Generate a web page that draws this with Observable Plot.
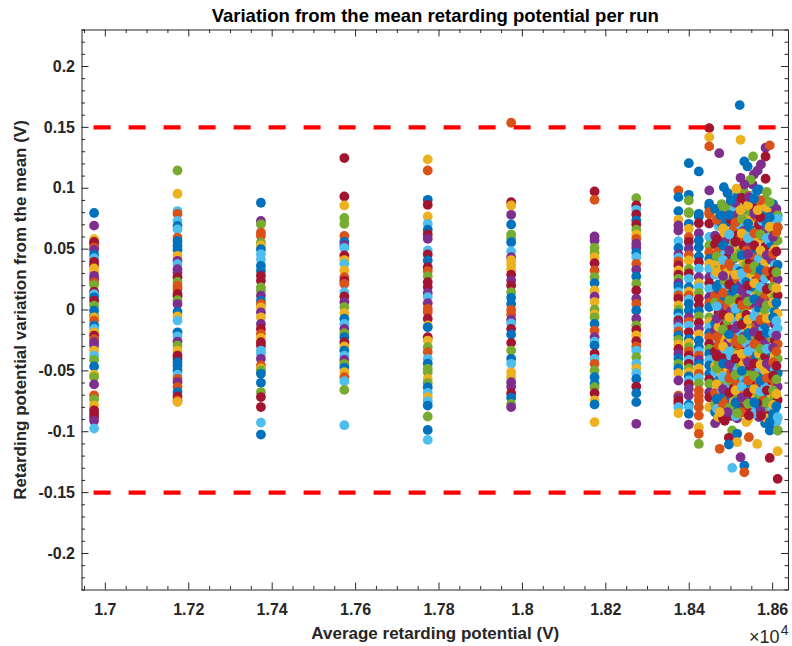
<!DOCTYPE html>
<html><head><meta charset="utf-8">
<script src="https://cdn.jsdelivr.net/npm/d3@7"></script>
<script src="https://cdn.jsdelivr.net/npm/@observablehq/plot@0.6"></script>
<style>html,body{margin:0;padding:0;background:#fff}svg{display:block}</style>
</head><body><div id="chart"></div>
<script>
// ---- labels ----
const titleText = "Variation from the mean retarding potential per run";
const xLabel = "Average retarding potential (V)";
const yLabel = "Retarding potential variation from the mean (V)";
const xExponentBase = "\u00d710";
const xExponent = "4";
const xTickValues = [17000, 17200, 17400, 17600, 17800, 18000, 18200, 18400, 18600];
const xTickLabels = ["1.7", "1.72", "1.74", "1.76", "1.78", "1.8", "1.82", "1.84", "1.86"];
const yTickValues = [-0.2, -0.15, -0.1, -0.05, 0, 0.05, 0.1, 0.15, 0.2];
const yTickLabels = ["-0.2", "-0.15", "-0.1", "-0.05", "0", "0.05", "0.1", "0.15", "0.2"];
const thresholds = [0.15, -0.15];
const thresholdSpan = [16973, 18610];

// ---- MATLAB default colour order ----
const palette = {B: "#0072BD", O: "#D95319", Y: "#EDB120", P: "#7E2F8E", G: "#77AC30", L: "#4DBEEE", R: "#A2142F"};
const cycle = ["B", "O", "Y", "P", "G", "L", "R"];

// ---- runs at fixed average potentials (V) ----
const runPositions = [16973, 17173, 17373, 17573, 17773, 17973, 18173, 18273, 18374, 18399, 18423, 18448];
const run1 = [0.0797,0.0693,0.0581,0.0559,0.0546,0.0513,0.0494,0.0455,0.0426,0.0396,0.0368,0.0341,0.0314,0.0281,0.0254,0.0225,0.0205,0.0150,0.0130,0.0104,0.0076,0.0035,-0.0005,-0.0046,-0.0060,-0.0087,-0.0128,-0.0156,-0.0183,-0.0210,-0.0240,-0.0265,-0.0292,-0.0333,-0.0374,-0.0410,-0.0464,-0.0532,-0.0551,-0.0611,-0.0701,-0.0734,-0.0783,-0.0824,-0.0851,-0.0878,-0.0910,-0.0974];
const run1c = "B P Y R R O P B L R R Y Y P P O G R L B R G B B Y O B L Y R O P P Y L G B Y G P O G Y R R R P L";
const run2 = [0.1146,0.0955,0.0813,0.0790,0.0731,0.0690,0.0663,0.0595,0.0567,0.0527,0.0494,0.0445,0.0404,0.0377,0.0336,0.0308,0.0267,0.0230,0.0199,0.0172,0.0131,0.0112,0.0080,0.0049,-0.0014,-0.0052,-0.0087,-0.0183,-0.0216,-0.0259,-0.0292,-0.0333,-0.0374,-0.0401,-0.0428,-0.0456,-0.0497,-0.0532,-0.0565,-0.0592,-0.0633,-0.0674,-0.0710,-0.0742,-0.0756];
const run2c = "G Y L O L B L O B B B Y P L P P R G O O R R G P B Y L B L P G Y R R B B B L O P O B R O Y";
const run3 = [0.0881,0.0731,0.0704,0.0636,0.0610,0.0554,0.0530,0.0499,0.0458,0.0417,0.0363,0.0322,0.0281,0.0240,0.0186,0.0158,0.0117,0.0076,0.0050,0.0022,-0.0019,-0.0060,-0.0115,-0.0156,-0.0196,-0.0230,-0.0265,-0.0292,-0.0333,-0.0360,-0.0401,-0.0456,-0.0480,-0.0497,-0.0524,-0.0598,-0.0674,-0.0715,-0.0797,-0.0925,-0.1023];
const run3c = "B P G O O G Y B L L B B R R G G P B O Y P Y P R O Y R R L L P O Y G B B G R R L B";
const run4 = [0.1248,0.0933,0.0859,0.0757,0.0708,0.0609,0.0560,0.0533,0.0511,0.0448,0.0410,0.0379,0.0325,0.0270,0.0240,0.0215,0.0147,0.0111,0.0065,0.0024,-0.0026,-0.0072,-0.0114,-0.0155,-0.0190,-0.0223,-0.0264,-0.0300,-0.0333,-0.0374,-0.0410,-0.0442,-0.0475,-0.0510,-0.0552,-0.0585,-0.0656,-0.0946];
const run4c = "R R Y G G O B P L R Y L Y O R O L R P G Y B L P G B R Y B L P G B Y O L G L";
const run5 = [0.1237,0.1146,0.0905,0.0864,0.0768,0.0708,0.0660,0.0620,0.0585,0.0489,0.0456,0.0407,0.0352,0.0320,0.0278,0.0229,0.0188,0.0140,0.0106,0.0056,0.0010,-0.0017,-0.0072,-0.0127,-0.0141,-0.0223,-0.0251,-0.0305,-0.0346,-0.0401,-0.0440,-0.0483,-0.0511,-0.0566,-0.0600,-0.0634,-0.0680,-0.0716,-0.0750,-0.0785,-0.0875,-0.0985,-0.1067];
const run5c = "Y O B R Y L B R P L R B R O G R R P L P O O R Y B R Y G O L B G G Y G B L Y L B G B L";
const run6 = [0.1538,0.0886,0.0859,0.0782,0.0703,0.0620,0.0590,0.0557,0.0483,0.0434,0.0410,0.0374,0.0333,0.0290,0.0242,0.0201,0.0147,0.0100,0.0050,0.0000,-0.0037,-0.0080,-0.0110,-0.0155,-0.0201,-0.0270,-0.0333,-0.0401,-0.0442,-0.0511,-0.0552,-0.0593,-0.0630,-0.0683,-0.0720,-0.0771,-0.0798];
const run6c = "O R Y P B G G B L P Y Y Y R P R G B B O O P L R B R G B L Y Y P P R B G P";
const run7 = [0.0974,0.0905,0.0604,0.0571,0.0511,0.0470,0.0434,0.0385,0.0325,0.0270,0.0221,0.0160,0.0110,0.0065,0.0002,-0.0037,-0.0060,-0.0114,-0.0169,-0.0223,-0.0260,-0.0292,-0.0360,-0.0401,-0.0442,-0.0497,-0.0552,-0.0606,-0.0634,-0.0683,-0.0743,-0.0776,-0.0921];
const run7c = "R O P P G G Y R O G B Y P Y G Y G B O P L B R L O G B B G R Y B Y";
const run8 = [0.0919,0.0859,0.0823,0.0785,0.0735,0.0703,0.0659,0.0620,0.0585,0.0544,0.0511,0.0470,0.0434,0.0379,0.0330,0.0275,0.0215,0.0160,0.0092,0.0050,-0.0004,-0.0072,-0.0127,-0.0163,-0.0209,-0.0256,-0.0300,-0.0333,-0.0387,-0.0442,-0.0480,-0.0519,-0.0566,-0.0629,-0.0683,-0.0757,-0.0935];
const run8c = "G R L R B R G Y O P P B L O P B G R P O B P G R Y R O L G L Y L B R B B P";
const run9 = [0.0982,0.0927,0.0812,0.0741,0.0694,0.0653,0.0566,0.0510,0.0456,0.0429,0.0400,0.0366,0.0325,0.0290,0.0256,0.0220,0.0193,0.0147,0.0120,0.0092,0.0038,0.0000,-0.0027,-0.0060,-0.0086,-0.0110,-0.0141,-0.0175,-0.0209,-0.0245,-0.0283,-0.0320,-0.0360,-0.0400,-0.0442,-0.0480,-0.0519,-0.0579,-0.0703,-0.0717,-0.0744,-0.0766,-0.0799,-0.0848];
const run9c = "O B B Y P P L B P L O R Y R G P B L O R Y G B L R P L O B G Y R P B G B Y P O P R R L Y";
const run10 = [0.1206,0.0946,0.0900,0.0804,0.0795,0.0708,0.0667,0.0598,0.0560,0.0503,0.0450,0.0407,0.0338,0.0300,0.0256,0.0188,0.0150,0.0119,0.0085,0.0051,-0.0004,-0.0060,-0.0095,-0.0128,-0.0183,-0.0237,-0.0270,-0.0305,-0.0340,-0.0374,-0.0410,-0.0442,-0.0480,-0.0511,-0.0545,-0.0579,-0.0610,-0.0648,-0.0703,-0.0777,-0.0799,-0.0853,-0.0941];
const run10c = "B B G G G B Y O R P O Y G R L B Y O L B B P O L R B Y G O R L R G Y B L R P P B L B P";
const run11 = [0.1138,0.0790,0.0767,0.0713,0.0631,0.0571,0.0516,0.0440,0.0393,0.0340,0.0270,0.0220,0.0188,0.0140,0.0092,0.0038,-0.0010,-0.0052,-0.0106,-0.0155,-0.0200,-0.0251,-0.0305,-0.0340,-0.0374,-0.0410,-0.0442,-0.0480,-0.0524,-0.0560,-0.0601,-0.0662,-0.0703,-0.0744,-0.0799,-0.0867,-0.0963,-0.1017,-0.1100];
const run11c = "B B B R P B B B R L P Y L G R R B G R P Y B B L O P B Y O L G O O O O O Y O G";
const run12 = [0.1494,0.1420,0.1344,0.0982,0.0873,0.0844,0.0804,0.0787,0.0710,0.0600,0.0530,0.0475,0.0420,0.0380,0.0338,0.0270,0.0220,0.0174,0.0105,0.0060,0.0024,-0.0060,-0.0100,-0.0141,-0.0190,-0.0223,-0.0278,-0.0320,-0.0360,-0.0410,-0.0456,-0.0524,-0.0570,-0.0606,-0.0676,-0.0717,-0.0799];
const run12c = "R Y O P B B O O R L G O B Y L P R L P O B G Y L B O R G B L B B R G P R Y";
const runValues = [run1, run2, run3, run4, run5, run6, run7, run8, run9, run10, run11, run12];
const runColors = [run1c, run2c, run3c, run4c, run5c, run6c, run7c, run8c, run9c, run10c, run11c, run12c];

// ---- dense block of runs near the top of the range ----
const denseX = [18462, 18470, 18478, 18485, 18492, 18500, 18507, 18515, 18522, 18530, 18537, 18545, 18552, 18560, 18567, 18575, 18582, 18590, 18597, 18605, 18612];
const denseY = [
  [0.083, 0.061, 0.054, 0.037, 0.029, 0.012, 0.006, -0.011, -0.017, -0.034, -0.046, -0.051, -0.068, -0.077, -0.084, -0.093],
  [0.076, 0.069, 0.048, 0.033, 0.021, 0.017, -0.002, -0.014, -0.026, -0.029, -0.043, -0.058, -0.062, -0.079, -0.088],
  [0.087, 0.071, 0.059, 0.044, 0.038, 0.019, 0.008, -0.005, -0.021, -0.036, -0.039, -0.053, -0.066, -0.071, -0.086],
  [0.079, 0.063, 0.046, 0.035, 0.024, 0.011, 0.001, -0.012, -0.024, -0.032, -0.047, -0.057, -0.069, -0.081, -0.091],
  [0.096, 0.084, 0.072, 0.057, 0.043, 0.031, 0.016, 0.003, -0.009, -0.018, -0.027, -0.041, -0.049, -0.063, -0.074, -0.084],
  [0.090, 0.074, 0.064, 0.051, 0.036, 0.022, 0.013, -0.001, -0.016, -0.023, -0.038, -0.052, -0.059, -0.071, -0.078, -0.087],
  [0.082, 0.067, 0.055, 0.042, 0.027, 0.018, 0.005, -0.007, -0.020, -0.033, -0.044, -0.050, -0.064, -0.075, -0.083],
  [0.093, 0.078, 0.061, 0.048, 0.034, 0.026, 0.009, -0.003, -0.013, -0.028, -0.037, -0.048, -0.061, -0.070, -0.080, -0.089],
  [0.086, 0.070, 0.058, 0.047, 0.032, 0.020, 0.007, -0.006, -0.018, -0.030, -0.045, -0.054, -0.067, -0.076, -0.085],
  [0.098, 0.080, 0.065, 0.053, 0.039, 0.025, 0.014, 0.002, -0.010, -0.022, -0.035, -0.043, -0.056, -0.065, -0.073, -0.082],
  [0.089, 0.075, 0.062, 0.049, 0.037, 0.023, 0.010, -0.004, -0.015, -0.027, -0.040, -0.052, -0.060, -0.072, -0.081, -0.092],
  [0.094, 0.081, 0.068, 0.056, 0.040, 0.030, 0.017, 0.004, -0.009, -0.021, -0.032, -0.046, -0.057, -0.069, -0.078],
  [0.103, 0.085, 0.073, 0.060, 0.045, 0.033, 0.019, 0.006, -0.007, -0.019, -0.031, -0.041, -0.053, -0.066, -0.074, -0.083],
  [0.092, 0.077, 0.064, 0.050, 0.038, 0.024, 0.012, -0.002, -0.014, -0.025, -0.038, -0.049, -0.062, -0.071, -0.080],
  [0.099, 0.083, 0.070, 0.058, 0.042, 0.028, 0.015, 0.001, -0.011, -0.024, -0.036, -0.047, -0.058, -0.070, -0.079, -0.088],
  [0.088, 0.073, 0.061, 0.047, 0.035, 0.021, 0.008, -0.005, -0.017, -0.029, -0.042, -0.055, -0.064, -0.076, -0.086],
  [0.091, 0.079, 0.066, 0.052, 0.039, 0.026, 0.011, 0.000, -0.013, -0.026, -0.038, -0.050, -0.061, -0.072, -0.081, -0.093],
  [0.084, 0.069, 0.057, 0.044, 0.030, 0.018, 0.005, -0.008, -0.020, -0.033, -0.045, -0.056, -0.068, -0.077, -0.087],
  [0.080, 0.066, 0.054, 0.041, 0.028, 0.014, 0.002, -0.010, -0.023, -0.035, -0.047, -0.058, -0.070, -0.080, -0.090],
  [0.077, 0.063, 0.050, 0.037, 0.024, 0.011, -0.001, -0.012, -0.025, -0.037, -0.049, -0.060, -0.072, -0.082, -0.094],
  [0.078, 0.068, 0.057, 0.037, 0.025, 0.012, -0.003, -0.015, -0.028, -0.040, -0.052, -0.063, -0.074, -0.089, -0.099]
];
const denseX2 = [18466, 18481, 18496, 18511, 18526, 18541, 18556, 18571, 18586, 18601, 18609];
const denseY2 = [
  [0.074, 0.058, 0.044, 0.031, 0.019, 0.003, -0.007, -0.022, -0.038, -0.048, -0.061, -0.073, -0.081],
  [0.085, 0.067, 0.053, 0.041, 0.028, 0.014, -0.004, -0.016, -0.030, -0.044, -0.055, -0.065, -0.078, -0.089],
  [0.078, 0.062, 0.049, 0.038, 0.021, 0.008, -0.006, -0.020, -0.034, -0.045, -0.056, -0.068, -0.080],
  [0.088, 0.072, 0.056, 0.043, 0.029, 0.017, 0.001, -0.015, -0.026, -0.040, -0.053, -0.066, -0.076, -0.087],
  [0.092, 0.075, 0.063, 0.045, 0.030, 0.016, 0.004, -0.012, -0.024, -0.036, -0.050, -0.063, -0.072, -0.084],
  [0.086, 0.071, 0.059, 0.046, 0.034, 0.020, 0.007, -0.008, -0.019, -0.034, -0.043, -0.058, -0.068, -0.077, -0.090],
  [0.095, 0.079, 0.063, 0.053, 0.036, 0.022, 0.009, -0.005, -0.018, -0.028, -0.044, -0.054, -0.065, -0.076, -0.085],
  [0.090, 0.076, 0.062, 0.049, 0.033, 0.019, 0.006, -0.008, -0.021, -0.032, -0.045, -0.058, -0.067, -0.083],
  [0.097, 0.084, 0.071, 0.059, 0.045, 0.032, 0.017, 0.004, -0.007, -0.019, -0.032, -0.044, -0.056, -0.066, -0.076, -0.089],
  [0.087, 0.072, 0.060, 0.046, 0.032, 0.019, 0.006, -0.006, -0.019, -0.031, -0.043, -0.054, -0.066, -0.078, -0.086],
  [0.083, 0.064, 0.048, 0.031, 0.018, 0.006, -0.009, -0.021, -0.034, -0.046, -0.057, -0.069, -0.079, -0.092]
];

// ---- isolated points of the dense block ----
const outlierX = [18521, 18523, 18472, 18583, 18593, 18583, 18553, 18572, 18532, 18540, 18564, 18555, 18583, 18523, 18547, 18532, 18513, 18483, 18492, 18563, 18543, 18555, 18593, 18500, 18475, 18523, 18564, 18612, 18612, 18593, 18593, 18612,
  18503, 18495, 18515, 18515, 18495, 18473, 18543, 18563, 18523, 18503, 18532, 18532, 18593, 18612, 18612, 18593, 18612, 18593, 18612, 18543, 18572, 18492, 18515, 18473];
const outlierY = [0.1683, 0.1398, 0.1288, 0.1333, 0.1352, 0.1261, 0.1261, 0.1196, 0.1220, 0.1179, 0.1146, 0.1113, 0.1078, 0.1086, 0.1070, 0.1031, 0.0996, 0.1009, 0.0960, 0.0982, 0.0927, 0.0914, 0.0886, 0.0900, 0.0777, 0.0820, 0.0820, 0.0777, 0.0750, 0.0762, 0.0685, 0.0680,
  -0.0990, -0.1050, -0.1017, -0.1086, -0.1105, -0.1140, -0.1045, -0.1100, -0.1209, -0.1297, -0.1278, -0.1333, -0.1215, -0.1160, -0.1387, -0.0990, -0.0990, -0.0920, -0.0881, -0.0867, -0.0867, -0.0840, -0.0848, -0.0840];
const outlierC = "B Y P P O R G P B B P P R P G P Y B B B P B G B B Y Y G L B Y O G R B Y B O O Y P L B O R Y R B G B L R R P G Y";

// ---- build table ----
const rows = [];
runValues.forEach((ys, j) => {
  const cs = runColors[j].split(" ");
  ys.forEach((y, i) => rows.push({x: runPositions[j], y, c: palette[cs[i]] || palette[cycle[i % 7]]}));
});
denseY.forEach((ys, j) => {
  ys.forEach((y, i) => rows.push({x: denseX[j], y, c: palette[cycle[(i * 3 + j * 2) % 7]]}));
});
denseY2.forEach((ys, j) => {
  ys.forEach((y, i) => rows.push({x: denseX2[j], y, c: palette[cycle[(i * 5 + j * 3 + 1) % 7]]}));
});
const oc = outlierC.split(" ");
outlierX.forEach((x, i) => rows.push({x, y: outlierY[i], c: palette[oc[i]] || palette[cycle[i % 7]]}));

const limitRows = thresholds.map(y => ({y, x1: thresholdSpan[0], x2: thresholdSpan[1]}));

// ---- ticks ----
const xMinor = d3.range(16950, 18640, 50).filter(v => v % 200 !== 0);
const yAll = d3.range(-23, 24).map(v => v / 100);
const yMinor = yAll.filter(v => Math.abs(Math.round(v * 100) % 5) !== 0);

const W = 792, H = 646, mL = 81.5, mR = 4, mT = 29.5, mB = 56.5;
const plotW = W - mL - mR, plotH = H - mT - mB;
const axisColor = "#262626";
const font = "'Liberation Sans', Arial, Helvetica, sans-serif";

const chart = Plot.plot({
  width: W, height: H,
  marginLeft: mL, marginRight: mR, marginTop: mT, marginBottom: mB,
  x: {domain: [16944, 18638]},
  y: {domain: [-0.23, 0.23]},
  color: {type: "identity"},
  style: {fontFamily: font, background: "#fff", overflow: "visible"},
  marks: [
    Plot.dot(rows, {x: "x", y: "y", r: 4.9, fill: "c", stroke: null}),
    Plot.ruleY(limitRows, {y: "y", x1: "x1", x2: "x2", stroke: "#FF0000", strokeWidth: 4.2, strokeDasharray: "17,18"}),
    Plot.tickX(xTickValues, {x: d => d, stroke: axisColor, insetTop: plotH - 7}),
    Plot.tickX(xTickValues, {x: d => d, stroke: axisColor, insetBottom: plotH - 7}),
    Plot.tickX(xMinor, {x: d => d, stroke: axisColor, insetTop: plotH - 3.5}),
    Plot.tickX(xMinor, {x: d => d, stroke: axisColor, insetBottom: plotH - 3.5}),
    Plot.tickY(yTickValues, {y: d => d, stroke: axisColor, insetRight: plotW - 7}),
    Plot.tickY(yTickValues, {y: d => d, stroke: axisColor, insetLeft: plotW - 7}),
    Plot.tickY(yMinor, {y: d => d, stroke: axisColor, insetRight: plotW - 3.5}),
    Plot.tickY(yMinor, {y: d => d, stroke: axisColor, insetLeft: plotW - 3.5}),
    Plot.axisX({ticks: xTickValues, tickSize: 0, tickPadding: 14, tickFormat: d => xTickLabels[xTickValues.indexOf(d)], fontSize: 16, fontWeight: "bold", fill: axisColor, label: null}),
    Plot.axisY({ticks: yTickValues, tickSize: 0, tickPadding: 7, tickFormat: d => yTickLabels[yTickValues.findIndex(v => Math.abs(v - d) < 1e-9)], fontSize: 16, fontWeight: "bold", fill: axisColor, label: null}),
    Plot.frame({stroke: axisColor, strokeWidth: 1}),
    Plot.text([titleText], {text: d => d, frameAnchor: "top", lineAnchor: "bottom", dy: -8, fontSize: 18.5, fontWeight: "bold", fill: "#000"}),
    Plot.text([xLabel], {text: d => d, frameAnchor: "bottom", lineAnchor: "bottom", dy: 49, fontSize: 17, fontWeight: "bold", fill: axisColor}),
    Plot.text([yLabel], {text: d => d, frameAnchor: "left", textAnchor: "middle", rotate: -90, lineAnchor: "middle", dx: -61, fontSize: 17, fontWeight: "bold", fill: axisColor}),
    Plot.text([xExponentBase], {text: d => d, frameAnchor: "bottom-right", textAnchor: "end", lineAnchor: "bottom", dx: -9, dy: 53, fontSize: 18, fill: axisColor}),
    Plot.text([xExponent], {text: d => d, frameAnchor: "bottom-right", textAnchor: "end", lineAnchor: "bottom", dx: 0, dy: 45, fontSize: 14, fill: axisColor})
  ]
});
document.getElementById("chart").appendChild(chart);
</script>
</body></html>
